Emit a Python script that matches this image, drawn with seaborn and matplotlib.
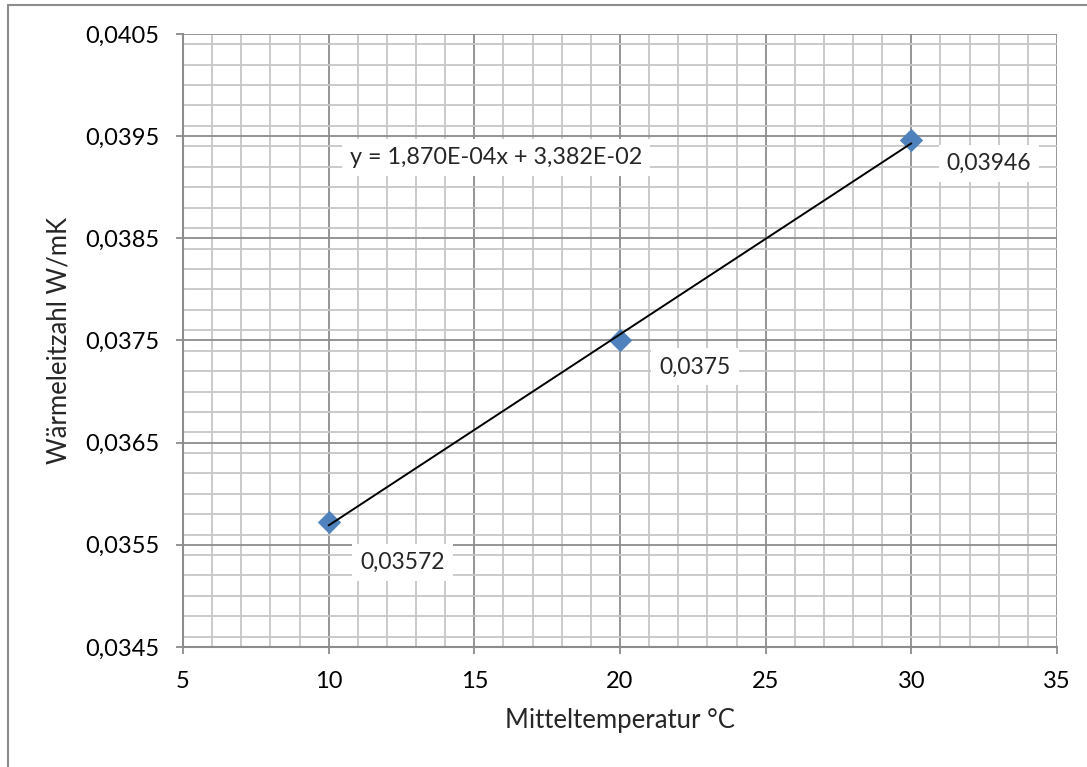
import matplotlib

matplotlib.use("Agg")
import matplotlib.pyplot as plt
import numpy as np
import pandas as pd
import seaborn as sns
from matplotlib.lines import Line2D
from matplotlib.ticker import FuncFormatter, MultipleLocator

# measured values
temperature = [10, 20, 30]
conductivity = [0.03572, 0.0375, 0.03946]
point_labels = ["0,03572", "0,0375", "0,03946"]

x_ticks = [5, 10, 15, 20, 25, 30, 35]
y_ticks = [0.0345, 0.0355, 0.0365, 0.0375, 0.0385, 0.0395, 0.0405]


def comma(v, decimals):
    return f"{v:.{decimals}f}".replace(".", ",")


def main() -> None:
    df = pd.DataFrame({"temp": temperature, "k": conductivity})
    slope, intercept = np.polyfit(df["temp"], df["k"], 1)
    eq_text = "y = {}x + {}".format(
        f"{slope:.3E}".replace(".", ","), f"{intercept:.3E}".replace(".", ",")
    )

    sns.set_theme(style="white")
    plt.rcParams["font.family"] = ["Lato", "DejaVu Sans"]

    fig = plt.figure(figsize=(10.87, 7.67), dpi=100)
    ax = fig.add_axes([0.1684, 0.1565, 0.8040, 0.7992])

    major_col = "#8c8c8c"
    minor_col = "#c6c6c6"

    ax.set_xlim(x_ticks[0], x_ticks[-1])
    ax.set_ylim(y_ticks[0], y_ticks[-1])
    ax.xaxis.set_major_locator(MultipleLocator(5))
    ax.xaxis.set_minor_locator(MultipleLocator(1))
    ax.yaxis.set_major_locator(MultipleLocator(0.001))
    ax.yaxis.set_minor_locator(MultipleLocator(0.0002))
    ax.set_xticks(x_ticks)
    ax.set_yticks(y_ticks)
    ax.xaxis.set_major_formatter(FuncFormatter(lambda v, p: f"{v:g}"))
    ax.yaxis.set_major_formatter(FuncFormatter(lambda v, p: comma(v, 4)))

    ax.grid(which="minor", color=minor_col, linewidth=1.3)
    ax.grid(which="major", color=major_col, linewidth=1.3)
    ax.set_axisbelow(True)

    for side in ["top", "right"]:
        ax.spines[side].set_visible(False)
    for side in ["left", "bottom"]:
        ax.spines[side].set_color(major_col)
        ax.spines[side].set_linewidth(1.5)

    ax.tick_params(which="major", direction="out", length=5, width=1.3,
                   color=major_col, labelsize=17, pad=12, labelcolor="black")
    ax.tick_params(which="minor", length=0)
    ax.tick_params(axis="y", left=True)
    ax.tick_params(axis="x", bottom=True)

    sns.scatterplot(data=df, x="temp", y="k", marker="D", s=130, color="#4f81bd",
                    edgecolor="#4f81bd", linewidth=0.5, zorder=3, ax=ax, legend=False)
    sns.regplot(data=df, x="temp", y="k", scatter=False, ci=None, truncate=True,
                line_kws={"color": "black", "linewidth": 1.4, "zorder": 4}, ax=ax)

    box = dict(boxstyle="square,pad=0.35", facecolor="white", edgecolor="none")
    offsets = [(53, -29), (54, -19), (56, -17)]
    for xv, yv, lab, off in zip(temperature, conductivity, point_labels, offsets):
        ax.annotate(lab, (xv, yv), xytext=off, textcoords="offset points",
                    ha="center", va="center", fontsize=16.5, bbox=box, zorder=5)

    ax.text(15.74, 0.03929, eq_text, ha="center", va="center", fontsize=16.8,
            bbox=box, zorder=5)

    ax.set_xlabel("Mitteltemperatur °C", fontsize=18.5, labelpad=12)
    ax.set_ylabel("Wärmeleitzahl W/mK", fontsize=18.5, labelpad=10)

    # outer chart border (only left/top visible in the crop)
    x0 = 8 / 1087
    y1 = 1 - 5 / 767
    fig.add_artist(Line2D([x0, x0], [0, y1], transform=fig.transFigure,
                          color="#8c8c8c", linewidth=1.5))
    fig.add_artist(Line2D([x0, 1], [y1, y1], transform=fig.transFigure,
                          color="#8c8c8c", linewidth=1.5))

    fig.savefig("out.png", dpi=100, facecolor="white")
    plt.close(fig)


if __name__ == "__main__":
    main()
